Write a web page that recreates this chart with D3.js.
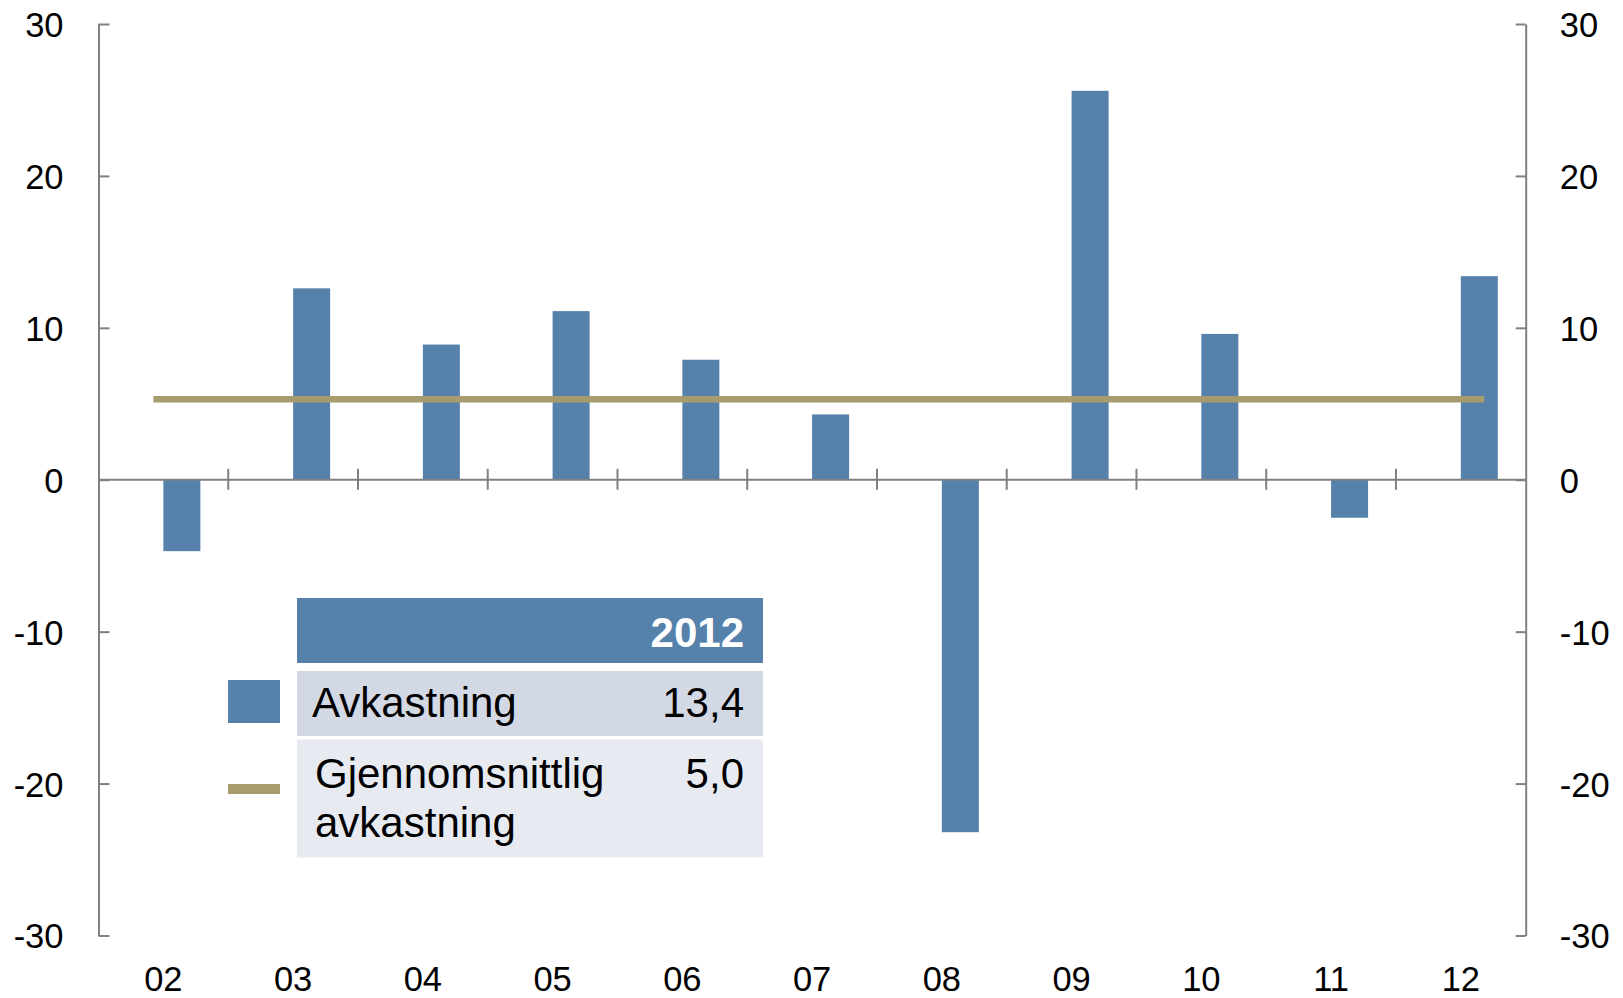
<!DOCTYPE html>
<html lang="no">
<head>
<meta charset="UTF-8">
<title>Avkastning</title>
<script src="https://d3js.org/d3.v7.min.js"></script>
<style>
    body { margin: 0; background: #fff; overflow: hidden; }
    svg { display: block; font-family: "Liberation Sans", Arial, sans-serif; }
    .axis path, .axis line { stroke: #808080; stroke-width: 2px; }
    .axis text { font-size: 34.5px; fill: #000; }
</style>
</head>
<body>
<div id="chart"></div>
<script>
// data
const years = ["02", "03", "04", "05", "06", "07", "08", "09", "10", "11", "12"];
const returns = [-4.7, 12.6, 8.9, 11.1, 7.9, 4.3, -23.2, 25.6, 9.6, -2.5, 13.4];
const avgReturn = 5.3;
const yTicks = [-30, -20, -10, 0, 10, 20, 30];
const tableHeader = "2012";
const tableRows = [
    { label: ["Avkastning"], value: "13,4" },
    { label: ["Gjennomsnittlig", "avkastning"], value: "5,0" }
];

const width = 1623, height = 998;
const plotL = 98.5, plotR = 1525.7, plotT = 24, plotB = 935.5;
const blue = "#5581ab", gold = "#a89b6e";

const svg = d3.select("#chart").append("svg")
    .attr("width", width)
    .attr("height", height);

const x = d3.scaleBand().domain(years).range([plotL, plotR]).padding(0);
const y = d3.scaleLinear().domain([-30, 30]).range([plotB, plotT]);
const bw = x.bandwidth();
const barW = 37;
const fmt = d => String(d); // plain hyphen for negatives

// y axes (left + right)
const yl = svg.append("g").attr("class", "axis")
    .attr("transform", `translate(${plotL},0)`)
    .call(d3.axisLeft(y).tickValues(yTicks).tickFormat(fmt).tickSize(-11).tickPadding(35).tickSizeOuter(0));
const yr = svg.append("g").attr("class", "axis")
    .attr("transform", `translate(${plotR},0)`)
    .call(d3.axisRight(y).tickValues(yTicks).tickFormat(fmt).tickSize(-10).tickPadding(34).tickSizeOuter(0));
[yl, yr].forEach(g => g.selectAll("text").attr("dy", "0.36em"));

// bars: start at band centre
svg.append("g").selectAll("rect")
    .data(years.map((d, i) => ({ year: d, v: returns[i] })))
    .join("rect")
    .attr("x", d => x(d.year) + bw / 2)
    .attr("width", barW)
    .attr("y", d => y(Math.max(0, d.v)))
    .attr("height", d => Math.abs(y(d.v) - y(0)))
    .attr("fill", blue);

// zero line with category separator ticks
const xa = svg.append("g").attr("class", "axis");
xa.append("line")
    .attr("x1", plotL).attr("x2", plotR)
    .attr("y1", y(0)).attr("y2", y(0));
xa.selectAll("line.sep")
    .data(years.slice(1))
    .join("line")
    .attr("class", "sep")
    .attr("x1", d => x(d)).attr("x2", d => x(d))
    .attr("y1", y(0) - 11).attr("y2", y(0) + 10);

// x labels
svg.append("g").selectAll("text")
    .data(years)
    .join("text")
    .attr("x", d => x(d) + bw / 2)
    .attr("y", 991)
    .attr("text-anchor", "middle")
    .attr("font-size", 34.5)
    .text(d => d);

// average line
svg.append("line")
    .attr("x1", x(years[0]) + bw / 2 - 10)
    .attr("x2", x(years[years.length - 1]) + bw / 2 + 23.5)
    .attr("y1", y(avgReturn)).attr("y2", y(avgReturn))
    .attr("stroke", gold)
    .attr("stroke-width", 6.5);

// legend table
const tx0 = 297, tx1 = 763, textR = 744;
const lg = svg.append("g").attr("font-size", 42);
lg.append("rect").attr("x", tx0).attr("y", 598).attr("width", tx1 - tx0).attr("height", 65).attr("fill", blue);
lg.append("text").attr("x", textR).attr("y", 646.5).attr("text-anchor", "end")
    .attr("font-weight", "bold").attr("fill", "#fff").text(tableHeader);

lg.append("rect").attr("x", tx0).attr("y", 671).attr("width", tx1 - tx0).attr("height", 65).attr("fill", "#d2d8e4");
lg.append("rect").attr("x", tx0).attr("y", 739.5).attr("width", tx1 - tx0).attr("height", 118).attr("fill", "#e7eaf0");

lg.append("text").attr("x", 312).attr("y", 717).text(tableRows[0].label[0]);
lg.append("text").attr("x", textR).attr("y", 717).attr("text-anchor", "end").text(tableRows[0].value);

lg.append("text").attr("x", 315).attr("y", 788)
    .selectAll("tspan")
    .data(tableRows[1].label)
    .join("tspan")
    .attr("x", 315)
    .attr("dy", (d, i) => i ? 48.5 : 0)
    .text(d => d);
lg.append("text").attr("x", textR).attr("y", 788).attr("text-anchor", "end").text(tableRows[1].value);

// legend keys
lg.append("rect").attr("x", 228).attr("y", 680).attr("width", 52).attr("height", 43).attr("fill", blue);
lg.append("rect").attr("x", 228).attr("y", 784).attr("width", 52).attr("height", 10).attr("fill", gold);
</script>
</body>
</html>
